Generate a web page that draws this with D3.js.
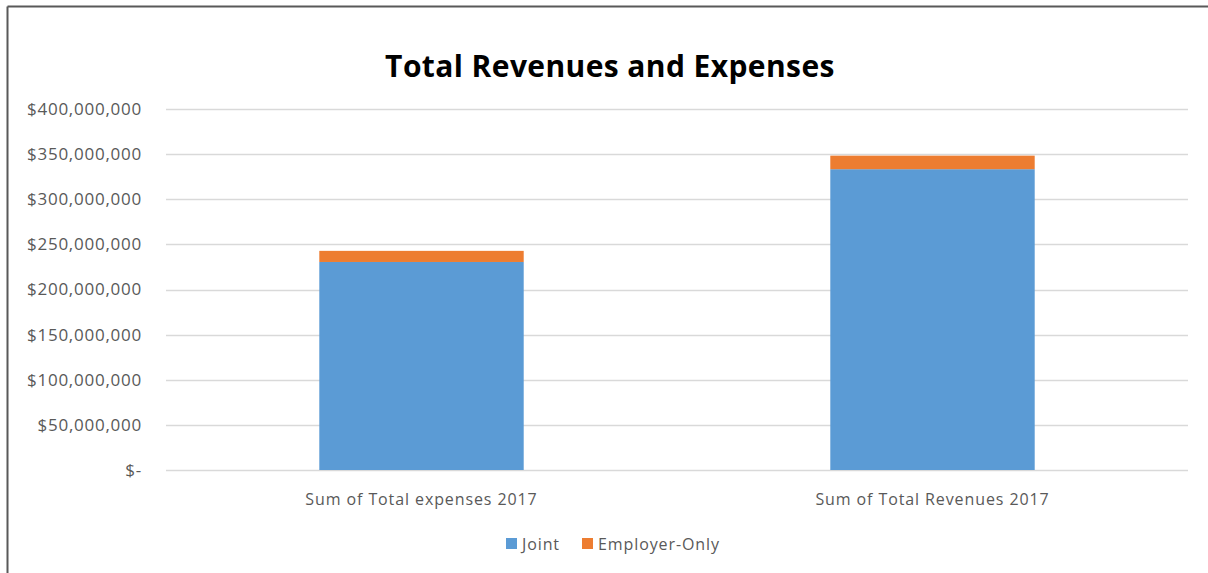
<!DOCTYPE html>
<html>
<head>
<meta charset="utf-8">
<script src="https://cdn.jsdelivr.net/npm/d3@7"></script>
<style>
  html, body { margin: 0; padding: 0; background: #fff; }
  svg { display: block; }
  text { font-family: "Open Sans", "Noto Sans", sans-serif; }
</style>
</head>
<body>
<svg id="chart" width="1208" height="573"></svg>
<script>
// Chart data
const categories = ["Sum of Total expenses 2017", "Sum of Total Revenues 2017"];
const seriesNames = ["Joint", "Employer-Only"];
const jointValues = [230500000, 333300000];
const employerOnlyValues = [12300000, 15000000];
const yTicks = [0, 50000000, 100000000, 150000000, 200000000, 250000000, 300000000, 350000000, 400000000];
const colors = ["#5b9bd5", "#ed7d31"];

const svg = d3.select("#chart");
const W = 1208, H = 573;

// Frame lines (top and left)
svg.append("line").attr("x1", 7.5).attr("y1", 6.5).attr("x2", W).attr("y2", 6.5)
  .attr("stroke", "#595959").attr("stroke-width", 2);
svg.append("line").attr("x1", 7.5).attr("y1", 6.5).attr("x2", 7.5).attr("y2", H)
  .attr("stroke", "#595959").attr("stroke-width", 2);

// Title
svg.append("text").attr("x", 610).attr("y", 77).attr("text-anchor", "middle")
  .attr("font-size", 30).attr("font-weight", "bold").attr("fill", "#000")
  .attr("letter-spacing", 0.4)
  .text("Total Revenues and Expenses");

const plotLeft = 166, plotRight = 1188, plotTop = 109, plotBottom = 470;

const x = d3.scaleBand().domain(categories).range([plotLeft, plotRight])
  .paddingInner(0.6).paddingOuter(0.3);
const y = d3.scaleLinear().domain([0, 400000000]).range([plotBottom, plotTop]);

// Gridlines
svg.append("g").selectAll("line").data(yTicks).join("line")
  .attr("x1", plotLeft).attr("x2", plotRight)
  .attr("y1", d => Math.round(y(d)) + 0.5).attr("y2", d => Math.round(y(d)) + 0.5)
  .attr("stroke", "#d9d9d9").attr("stroke-width", 1.5);

// Y axis labels
const fmt = d => d === 0 ? "$-" : "$" + d3.format(",")(d);
const yAxis = d3.axisLeft(y).tickValues(yTicks).tickFormat(fmt).tickSize(0).tickPadding(0);
const gy = svg.append("g").attr("transform", `translate(142,0)`).call(yAxis);
gy.select(".domain").remove();
gy.selectAll("text").attr("font-size", 17).attr("fill", "#595959")
  .attr("font-family", "'Open Sans', sans-serif").attr("letter-spacing", 0.75);

// Stacked bars
const rows = categories.map((c, i) => ({ cat: c, Joint: jointValues[i], "Employer-Only": employerOnlyValues[i] }));
const stacked = d3.stack().keys(seriesNames)(rows);
svg.append("g").selectAll("g").data(stacked).join("g")
  .attr("fill", (d, i) => colors[i])
  .selectAll("rect").data(d => d).join("rect")
  .attr("x", d => x(d.data.cat))
  .attr("width", x.bandwidth())
  .attr("y", d => y(d[1]))
  .attr("height", d => y(d[0]) - y(d[1]));

// X axis category labels
const xAxis = d3.axisBottom(x).tickSize(0).tickPadding(0);
const gx = svg.append("g").attr("transform", `translate(0,${plotBottom})`).call(xAxis);
gx.select(".domain").remove();
gx.selectAll("text").attr("font-size", 16).attr("fill", "#595959")
  .attr("font-family", "'Open Sans', sans-serif").attr("letter-spacing", 0.9)
  .attr("dy", 0).attr("y", 35);

// Legend
const legendItems = [
  { name: seriesNames[0], color: colors[0], x: 506 },
  { name: seriesNames[1], color: colors[1], x: 582 }
];
const lg = svg.append("g");
legendItems.forEach(it => {
  lg.append("rect").attr("x", it.x).attr("y", 538).attr("width", 11).attr("height", 11).attr("fill", it.color);
  lg.append("text").attr("x", it.x + 16).attr("y", 550).attr("font-size", 16).attr("fill", "#595959")
    .attr("letter-spacing", 0.9).text(it.name);
});
</script>
</body>
</html>
